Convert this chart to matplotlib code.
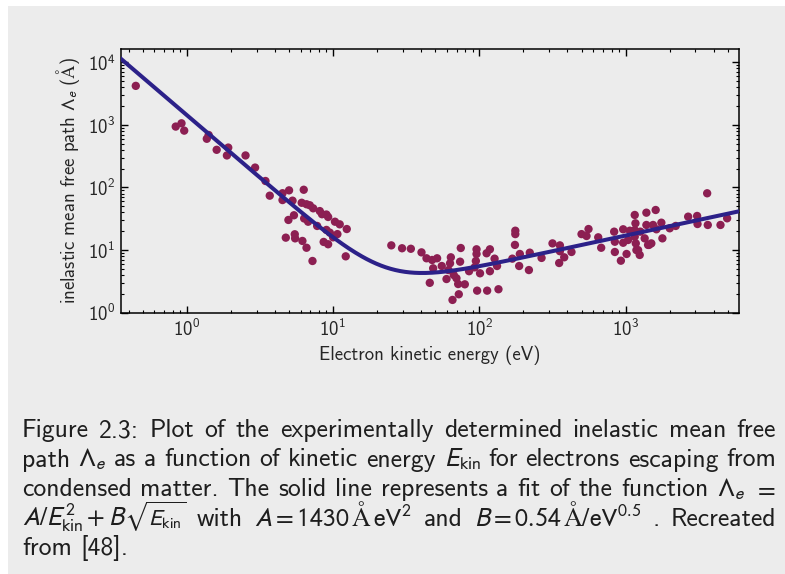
import numpy as np
import matplotlib
matplotlib.use('Agg')
import matplotlib.pyplot as plt
from matplotlib.patches import Rectangle

# data (electron kinetic energy in eV, IMFP in Angstrom)
energy_ev = [0.448, 0.84, 0.92, 0.96, 1.37, 1.41, 1.60, 1.92, 1.88, 2.52, 2.93, 3.45,
             3.69, 4.51, 5.0, 6.3,
             4.51, 5.28, 6.1, 6.58, 6.93, 7.31, 8.11, 8.4, 9.0, 9.25, 10.3, 11.1, 12.4,
             5.4, 4.95, 6.34, 6.75, 7.78, 9.0, 9.5, 10.7, 10.0, 4.75, 5.47, 5.5, 6.17,
             6.58, 7.23, 8.62, 9.25, 12.2, 25,
             29.6, 34, 40.2, 43.5, 47.5, 51.4, 48.3, 45.8, 55.3, 63.8, 63, 61.5, 59.6,
             66.8, 69.7, 74.6, 73.8, 71.6, 79.5, 72.3, 65.5, 85, 95.6, 95.6, 94.6, 92.7,
             101, 112, 118, 118, 127, 132, 96.5, 113, 135, 176, 176, 175, 168, 189, 187,
             221, 218, 266, 316, 355, 355, 380, 351, 426, 499, 557, 540, 649, 680, 834,
             843, 843, 927, 961, 961, 1014, 1153, 1166, 1153, 1153, 1172, 1184, 1247,
             1260, 1348, 1385, 1385, 1443, 1497, 1603, 1538, 1622, 1753, 1782, 2000,
             2198, 2673, 3078, 3097, 3605, 3640, 4446, 4937, 1067, 1038, 1216, 1422]
imfp = [4200, 940, 1060, 810, 600, 690, 400, 434, 325, 325, 208, 127,
        74, 81, 90, 92,
        63, 61.6, 57, 54, 52, 46.5, 42, 37.4, 37, 33.8, 28.4, 25.8, 21.7,
        36, 30.3, 32, 28.4, 24.3, 21, 19, 18, 16, 15.8, 17.9, 15.4, 14,
        10.9, 6.7, 13.5, 12.4, 7.95, 11.9,
        10.7, 10.5, 9.2, 7.4, 6.95, 7.4, 5.12, 3.0, 5.57, 7.67, 6.15, 4.8, 3.45,
        4.0, 3.55, 10.8, 6.53, 2.87, 2.84, 1.97, 1.6, 4.6, 10.3, 8.67, 6.7, 5.3,
        4.26, 8.9, 10.3, 4.6, 7.3, 5.57, 2.25, 2.25, 2.37, 20.4, 18, 12.1, 7.3, 8.67, 5.57,
        9.1, 4.8, 7.5, 12.8, 11.9, 9.6, 7.67, 6.22, 9.33, 18, 21.7, 16.8, 16, 10.9, 19.7,
        13.6, 9.33, 6.77, 21.5, 13.1, 8.67, 36.4, 26.8, 20.9, 16.4, 12.8, 10, 8.36,
        19.7, 15.4, 39.6, 25.2, 12.1, 12.8, 43.7, 25.2, 21.5, 27.4, 15.4, 22.3,
        24.3, 34.2, 35.1, 26.1, 80.8, 25.2, 25.2, 32.2, 20.4, 14.5, 10, 12.1]

# fit parameters from the caption
A = 1430
B = 0.54

# words split by spaces, '|' glues pieces of one word together
caption_lines = [
    "Figure 2.3: Plot of the experimentally determined inelastic mean free",
    r"path $\Lambda_e$ as a function of kinetic energy $E_{\mathrm{kin}}$ for electrons escaping from",
    r"condensed matter. The solid line represents a fit of the function $\Lambda_e$ $=$",
    r"$A/E_{\mathrm{kin}}^2+B$|$\sqrt{E_{\mathrm{kin}}}$ with $A=1430\,\mathrm{Å}\,\mathrm{eV}^2$ and $B=0.54\,\mathrm{Å}/\mathrm{eV}^{0.5}$ . Recreated",
    "from [48].",
]

plt.rcParams['font.family'] = ['cmss10', 'DejaVu Sans']
plt.rcParams['mathtext.fontset'] = 'stixsans'
plt.rcParams['axes.formatter.use_mathtext'] = True
plt.rcParams['axes.unicode_minus'] = False

W, H = 785, 574
fig = plt.figure(figsize=(W / 100, H / 100), dpi=100)
fig.patch.set_facecolor('white')
fig.add_artist(Rectangle((8 / W, 0), 1, 1 - 6 / H, transform=fig.transFigure,
                         facecolor='#ececec', edgecolor='none', zorder=-10))

ax = fig.add_axes([121 / W, 1 - 312.7 / H, (739 - 121) / W, (312.7 - 49) / H])
ax.set_facecolor('#ececec')

x_fit = np.logspace(np.log10(0.3), np.log10(7000), 400)
ax.plot(x_fit, A / x_fit**2 + B * np.sqrt(x_fit), color='#2c2189', lw=2.9, zorder=3)
ax.scatter(energy_ev, imfp, s=36, color='#8c1f52', edgecolors='none', zorder=2)

ax.set_xscale('log')
ax.set_yscale('log')
ax.set_xlim(0.355, 5950)
ax.set_ylim(1, 16300)

for sp in ax.spines.values():
    sp.set_linewidth(1.1)
ax.tick_params(which='both', direction='in', top=True, right=True, colors='black',
               labelcolor='#262626', labelsize=13.5)
ax.tick_params(which='major', length=5, width=1.0, pad=4)
ax.tick_params(which='minor', length=2.5, width=0.8)

ax.set_xlabel("Electron kinetic energy (eV)", fontsize=13.5, color='#262626', labelpad=4)
ax.set_ylabel(r"inelastic mean free path $\Lambda_e$ ($\mathrm{Å}$)", fontsize=13.5,
              color='#262626', labelpad=4)

# justified caption
left, right = 22, 776
baselines = [437, 466.5, 496, 526, 555]
fs = 18.5
renderer = fig.canvas.get_renderer()
for i, (line, yb) in enumerate(zip(caption_lines, baselines)):
    words = []
    for w in line.split(' '):
        pieces = []
        for p in w.split('|'):
            is_root = r'\sqrt' in p
            size = fs * 0.9 if is_root else fs
            t = fig.text(0, 1 - yb / H, p, fontsize=size, va='baseline', ha='left',
                         color='#1e1e1e')
            pw = t.get_window_extent(renderer).width
            pieces.append((t, pw, -3 if is_root else 0))
        words.append(pieces)
    widths = [sum(pw + k for _, pw, k in pieces) for pieces in words]
    if i < len(caption_lines) - 1:
        gap = (right - left - sum(widths)) / (len(words) - 1)
    else:
        gap = 0.33 * fs * 100 / 72
    x = left
    for pieces in words:
        for t, pw, k in pieces:
            x += k
            t.set_x(x / W)
            x += pw
        x += gap

fig.savefig('out.png', dpi=100, facecolor=fig.get_facecolor())
